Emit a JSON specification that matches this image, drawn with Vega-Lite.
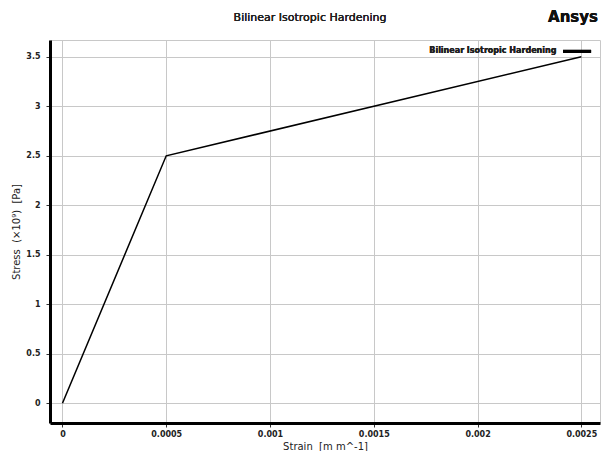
{
  "$schema": "https://vega.github.io/schema/vega-lite/v6.json",
  "width": 550,
  "height": 383,
  "autosize": {"type": "none"},
  "padding": {"left": 50, "top": 40, "right": 5, "bottom": 28},
  "background": "white",
  "config": {
    "font": "DejaVu Sans",
    "view": {"stroke": "#c8c8c8", "strokeWidth": 1}
  },
  "data": {
    "values": [
      {"strain": 0, "stress": 0},
      {"strain": 0.0005, "stress": 2.5},
      {"strain": 0.0025, "stress": 3.5}
    ]
  },
  "layer": [
    {
      "mark": {"type": "line", "color": "black", "strokeWidth": 1.5},
      "encoding": {
        "x": {
          "field": "strain",
          "type": "quantitative",
          "scale": {"domain": [-0.00006, 0.00259], "nice": false, "zero": false},
          "axis": {
            "title": "Strain\u00a0\u00a0[m m^-1]",
            "values": [0, 0.0005, 0.001, 0.0015, 0.002, 0.0025],
            "labelExpr": "datum.value == 0 ? '0' : format(datum.value, '~g')",
            "labelFontSize": 8,
            "labelFontWeight": "bold",
            "labelColor": "#222",
            "titleFontSize": 10,
            "titleFontWeight": "normal",
            "titleColor": "#222",
            "titlePadding": 3,
            "domainColor": "black",
            "domainWidth": 3,
            "tickColor": "#333",
            "tickSize": 4,
            "labelPadding": 3,
            "grid": true,
            "gridColor": "#c8c8c8",
            "gridWidth": 1,
            "labelFlush": false
          }
        },
        "y": {
          "field": "stress",
          "type": "quantitative",
          "scale": {"domain": [-0.2, 3.67], "nice": false, "zero": false},
          "axis": {
            "title": "Stress\u00a0\u00a0(×10⁹)\u00a0\u00a0[Pa]",
            "values": [0, 0.5, 1, 1.5, 2, 2.5, 3, 3.5],
            "labelExpr": "format(datum.value, '~g')",
            "labelFontSize": 8,
            "labelFontWeight": "bold",
            "labelColor": "#222",
            "titleFontSize": 10,
            "titleFontWeight": "normal",
            "titleColor": "#222",
            "titlePadding": 4,
            "domainColor": "black",
            "domainWidth": 3,
            "tickColor": "#333",
            "tickSize": 4,
            "labelPadding": 6,
            "grid": true,
            "gridColor": "#c8c8c8",
            "gridWidth": 1
          }
        }
      }
    },
    {
      "mark": {"type": "text", "align": "right", "baseline": "middle", "fontSize": 8, "fontWeight": "bold", "color": "#222", "clip": false},
      "encoding": {
        "x": {"datum": 0.00238},
        "y": {"datum": 3.555},
        "text": {"value": "Bilinear Isotropic Hardening"}
      }
    },
    {
      "mark": {"type": "rule", "color": "black", "strokeWidth": 3},
      "encoding": {
        "x": {"datum": 0.002412},
        "x2": {"datum": 0.002547},
        "y": {"datum": 3.555}
      }
    },
    {
      "mark": {"type": "text", "align": "center", "baseline": "middle", "fontSize": 11, "fontWeight": "normal", "color": "#222", "clip": false},
      "encoding": {
        "x": {"datum": 0.001193},
        "y": {"datum": 3.89},
        "text": {"value": "Bilinear Isotropic Hardening"}
      }
    },
    {
      "mark": {"type": "text", "align": "center", "baseline": "middle", "fontSize": 15, "fontWeight": "bold", "color": "#111", "clip": false},
      "encoding": {
        "x": {"datum": 0.00246},
        "y": {"datum": 3.9},
        "text": {"value": "Ansys"}
      }
    }
  ]
}
